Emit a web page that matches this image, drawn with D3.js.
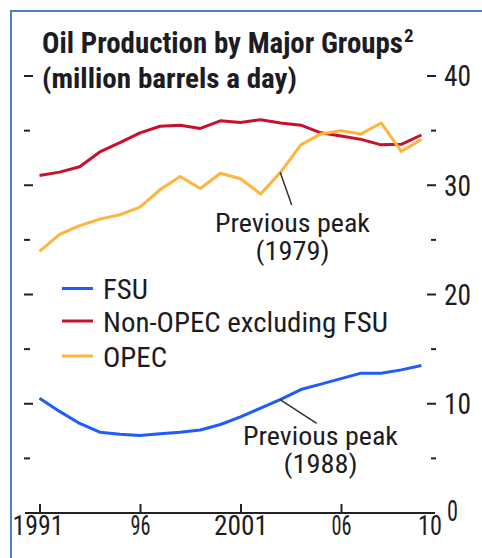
<!DOCTYPE html>
<html lang="en">
<head>
    <meta charset="UTF-8">
    <title>Oil Production by Major Groups</title>
    <script src="https://d3js.org/d3.v7.min.js"></script>
    <style>
        body {
            margin: 0;
            background: #fff;
        }
        svg text {
            font-family: "Liberation Sans Narrow", "Roboto Condensed", "DejaVu Sans Condensed", Arial, sans-serif;
            fill: #1c1c24;
        }
        .title {
            font-weight: bold;
        }
    </style>
</head>
<body>
    <div id="chart"></div>

    <script>
        // data, million barrels a day
        const years = d3.range(1991, 2011);
        const fsu = [10.5, 9.3, 8.2, 7.4, 7.2, 7.1, 7.25, 7.4, 7.6, 8.1, 8.8, 9.6, 10.4, 11.3, 11.8, 12.3, 12.8, 12.8, 13.1, 13.5];
        const nonOpec = [30.9, 31.2, 31.7, 33.05, 33.9, 34.8, 35.4, 35.5, 35.2, 35.9, 35.75, 36.0, 35.7, 35.5, 34.8, 34.5, 34.2, 33.7, 33.75, 34.6];
        const opec = [23.95, 25.5, 26.3, 26.9, 27.3, 28.0, 29.6, 30.8, 29.7, 31.1, 30.6, 29.2, 31.2, 33.7, 34.7, 35.0, 34.7, 35.7, 33.1, 34.2];

        const seriesNames = ["FSU", "Non-OPEC excluding FSU", "OPEC"];
        const xTickYears = [1991, 1996, 2001, 2006, 2010];
        const xTickLabels = ["1991", "96", "2001", "06", "10"];
        const yTicks = [0, 10, 20, 30, 40];
        const yMinorTicks = [5, 15, 25, 35];

        const colors = ["#1f5cff", "#c8102e", "#ffb43c"];
        const allSeries = [fsu, nonOpec, opec];

        const w = 482, h = 558;

        const svg = d3.select("#chart")
            .append("svg")
            .attr("width", w)
            .attr("height", h);

        // frame
        svg.append("path")
            .attr("d", "M11,558 V11 H482")
            .attr("fill", "none")
            .attr("stroke", "#4f7fc0")
            .attr("stroke-width", 2);

        const x = d3.scaleLinear().domain([1991, 2010]).range([39.5, 421.4]);
        const y = d3.scaleLinear().domain([0, 40]).range([513, 76]);

        // left ticks (no labels)
        const left = svg.append("g").attr("transform", "translate(24,0)");
        left.selectAll(".maj").data(yTicks.filter(d => d > 0)).enter()
            .append("line")
            .attr("x1", 0).attr("x2", 9)
            .attr("y1", d => y(d)).attr("y2", d => y(d))
            .attr("stroke", "#222").attr("stroke-width", 2);
        left.selectAll(".min").data(yMinorTicks).enter()
            .append("line")
            .attr("x1", 0).attr("x2", 6)
            .attr("y1", d => y(d)).attr("y2", d => y(d))
            .attr("stroke", "#222").attr("stroke-width", 2);

        // right axis
        const right = svg.append("g").attr("transform", "translate(436,0)");
        right.selectAll(".maj").data(yTicks.filter(d => d > 0)).enter()
            .append("line")
            .attr("x1", -9).attr("x2", 0)
            .attr("y1", d => y(d)).attr("y2", d => y(d))
            .attr("stroke", "#222").attr("stroke-width", 2);
        right.selectAll(".min").data(yMinorTicks).enter()
            .append("line")
            .attr("x1", -5).attr("x2", 0)
            .attr("y1", d => y(d)).attr("y2", d => y(d))
            .attr("stroke", "#222").attr("stroke-width", 2);
        right.selectAll("text").data(yTicks).enter()
            .append("text")
            .attr("x", d => d === 0 ? 11 : 8)
            .attr("y", d => d === 0 ? y(d) - 2 : y(d))
            .attr("dy", "0.36em")
            .attr("font-size", 29)
            .attr("textLength", d => d === 0 ? 11 : 27)
            .attr("lengthAdjust", "spacingAndGlyphs")
            .text(d => d);

        // x axis
        const xAxis = d3.axisTop(x)
            .tickValues(xTickYears)
            .tickSize(9)
            .tickFormat((d, i) => xTickLabels[i]);

        const gx = svg.append("g")
            .attr("transform", "translate(0,513)")
            .call(xAxis);
        gx.select(".domain").remove();
        gx.selectAll(".tick line").attr("stroke", "#222").attr("stroke-width", 2)
            .filter(d => d === 2010).remove();
        gx.selectAll(".tick text")
            .attr("y", 22)
            .attr("dy", 0)
            .attr("font-size", 27)
            .attr("fill", "#1c1c24")
            .attr("textLength", d => d === 1991 ? 51 : d === 2001 ? 54 : d === 2010 ? 24 : 20)
            .attr("lengthAdjust", "spacingAndGlyphs")
            .attr("dx", d => d === 2010 ? 8 : (d === 1991 ? -2 : 0));
        svg.append("line")
            .attr("x1", 25).attr("x2", 435)
            .attr("y1", 513).attr("y2", 513)
            .attr("stroke", "#222").attr("stroke-width", 2);

        // series
        const line = d3.line()
            .x((d, i) => x(years[i]))
            .y(d => y(d));

        allSeries.forEach((s, i) => {
            svg.append("path")
                .datum(s)
                .attr("d", line)
                .attr("fill", "none")
                .attr("stroke", colors[i])
                .attr("stroke-width", 3)
                .attr("stroke-linejoin", "round");
        });

        // title
        svg.append("text")
            .attr("class", "title")
            .attr("x", 42).attr("y", 53)
            .attr("font-size", 29)
            .attr("textLength", 361)
            .attr("lengthAdjust", "spacingAndGlyphs")
            .text("Oil Production by Major Groups");
        svg.append("text")
            .attr("class", "title")
            .attr("x", 404).attr("y", 42)
            .attr("font-size", 19)
            .text("2");
        svg.append("text")
            .attr("class", "title")
            .attr("x", 42).attr("y", 88)
            .attr("font-size", 28)
            .attr("textLength", 255)
            .attr("lengthAdjust", "spacingAndGlyphs")
            .text("(million barrels a day)");

        // legend
        const legendY = [288.5, 321, 356];
        const legendW = [45, 285, 64];
        const legend = svg.append("g");
        seriesNames.forEach((name, i) => {
            legend.append("line")
                .attr("x1", 62).attr("x2", 93)
                .attr("y1", legendY[i]).attr("y2", legendY[i])
                .attr("stroke", colors[i])
                .attr("stroke-width", 3);
            legend.append("text")
                .attr("x", 103)
                .attr("y", legendY[i] + 10.5)
                .attr("font-size", 27)
                .attr("textLength", legendW[i])
                .attr("lengthAdjust", "spacingAndGlyphs")
                .text(name);
        });

        // annotations
        function note(px, py, lx, ly, cx, by, label) {
            svg.append("line")
                .attr("x1", px).attr("y1", py)
                .attr("x2", lx).attr("y2", ly)
                .attr("stroke", "#333")
                .attr("stroke-width", 1.5);
            svg.append("text")
                .attr("x", cx).attr("y", by)
                .attr("text-anchor", "middle")
                .attr("font-size", 26)
                .attr("textLength", 155)
                .attr("lengthAdjust", "spacingAndGlyphs")
                .text("Previous peak");
            svg.append("text")
                .attr("x", cx).attr("y", by + 28)
                .attr("text-anchor", "middle")
                .attr("font-size", 26)
                .attr("textLength", 74)
                .attr("lengthAdjust", "spacingAndGlyphs")
                .text("(" + label + ")");
        }
        note(x(2003) - 0.5, y(opec[12]), 291.7, 205, 292.5, 232, "1979");
        note(x(2003) - 1, y(fsu[12]), 316.7, 423.3, 320.5, 445, "1988");
    </script>
</body>
</html>
